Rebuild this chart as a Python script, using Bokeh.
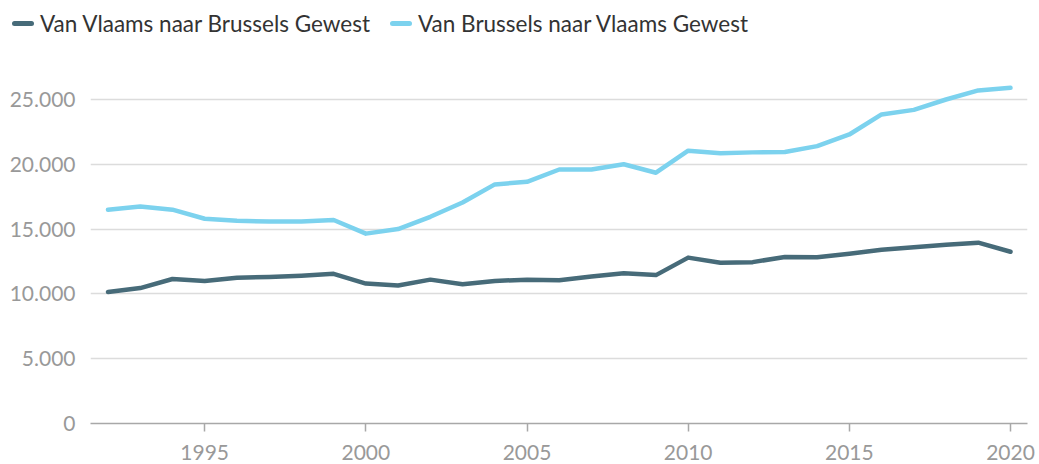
from bokeh.plotting import figure
from bokeh.layouts import column
from bokeh.models import Range1d, FixedTicker, CustomJSTickFormatter, Div
from bokeh.embed import file_html
from bokeh.resources import INLINE

years = list(range(1992, 2021))
vlaams_naar_brussel = [10150, 10450, 11150, 11000, 11250, 11300, 11400, 11550, 10800, 10650,
                       11100, 10750, 11000, 11100, 11050, 11350, 11600, 11450, 12800, 12400,
                       12450, 12850, 12820, 13100, 13400, 13600, 13800, 13950, 13250]
brussel_naar_vlaams = [16500, 16750, 16500, 15800, 15650, 15580, 15580, 15700, 14650, 15000,
                       15950, 17050, 18450, 18650, 19600, 19600, 20000, 19350, 21050, 20850,
                       20920, 20950, 21400, 22300, 23850, 24200, 25000, 25700, 25900]
series_names = ["Van Vlaams naar Brussels Gewest", "Van Brussels naar Vlaams Gewest"]
y_ticks = [0, 5000, 10000, 15000, 20000, 25000]
x_ticks = [1995, 2000, 2005, 2010, 2015, 2020]

DARK = "#476b79"
LIGHT = "#7cd2ee"
FONT = "Lato"
LW = 4.5
colors = [DARK, LIGHT]

# ---- legend strip (real text) ----
items_html = ""
for i, (name, col) in enumerate(zip(series_names, colors)):
    ml = "0px" if i == 0 else "20px"
    items_html += (
        f'<span style="display:inline-flex;align-items:center;margin-left:{ml};">'
        f'<span style="display:inline-block;width:22px;height:5px;border-radius:3px;'
        f'background:{col};margin-right:6px;"></span>'
        f'<span>{name}</span></span>'
    )
legend_div = Div(
    text=f'<div style="display:flex;align-items:center;height:48px;padding-left:12px;'
         f'font-family:Lato,sans-serif;font-size:22.5px;color:#333333;white-space:nowrap;">'
         f'{items_html}</div>',
    width=1039, height=48, margin=0,
)

# ---- main chart ----
p = figure(width=1039, height=416, output_backend="svg", toolbar_location=None,
           x_range=Range1d(1991.457, 2020.527), y_range=Range1d(0, 28935),
           min_border_left=90, min_border_right=12, min_border_top=0, min_border_bottom=41)
p.outline_line_color = None
p.background_fill_color = "white"
p.border_fill_color = "white"

p.line(years, vlaams_naar_brussel, line_color=DARK, line_width=LW, line_cap="round", line_join="round")
p.line(years, brussel_naar_vlaams, line_color=LIGHT, line_width=LW, line_cap="round", line_join="round")

# x axis
p.xaxis.ticker = FixedTicker(ticks=x_ticks)
p.xaxis.axis_line_color = "#a8a8a8"
p.xaxis.axis_line_width = 1.5
p.xaxis.major_tick_line_color = "#a8a8a8"
p.xaxis.major_tick_line_width = 1.5
p.xaxis.major_tick_out = 8
p.xaxis.major_tick_in = 0
p.xaxis.minor_tick_line_color = None
p.xaxis.major_label_standoff = 13
p.xaxis.major_label_text_font = FONT
p.xaxis.major_label_text_font_size = "21px"
p.xaxis.major_label_text_color = "#999999"
p.xgrid.grid_line_color = None

# y axis
p.yaxis.ticker = FixedTicker(ticks=y_ticks)
p.yaxis.formatter = CustomJSTickFormatter(code="return tick.toFixed(0).replace(/\\B(?=(\\d{3})+(?!\\d))/g, '.');")
p.yaxis.axis_line_color = None
p.yaxis.major_tick_line_color = None
p.yaxis.minor_tick_line_color = None
p.yaxis.major_label_standoff = 9
p.yaxis.major_label_text_font = FONT
p.yaxis.major_label_text_font_size = "21px"
p.yaxis.major_label_text_color = "#999999"
p.ygrid.grid_line_color = "#dcdcdc"
p.ygrid.grid_line_width = 1.5

open("out.html", "w").write(file_html(column(legend_div, p, spacing=0), INLINE))
